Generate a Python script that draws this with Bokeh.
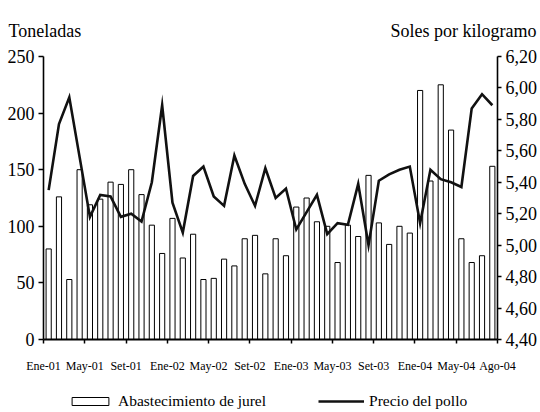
from bokeh.plotting import figure
from bokeh.models import (Range1d, LinearAxis, FixedTicker, CustomJSTickFormatter,
                          Label, Legend, LegendItem, ColumnDataSource)
from bokeh.embed import file_html
from bokeh.resources import INLINE

# ---- data (monthly, Ene-01 .. Ago-04) ----
meses = ["Ene", "Feb", "Mar", "Abr", "May", "Jun", "Jul", "Ago", "Set", "Oct", "Nov", "Dic"]
anios = ["01", "02", "03", "04"]
periodos = [f"{m}-{a}" for a in anios for m in meses][:44]

abastecimiento_jurel = [80, 126, 53, 150, 119, 124, 139, 137, 150, 128,
                        101, 76, 107, 72, 93, 53, 54, 71, 65, 89,
                        92, 58, 89, 74, 117, 125, 104, 100, 68, 101,
                        91, 145, 103, 84, 100, 94, 220, 140, 225, 185,
                        89, 68, 74, 153]

precio_pollo = [5.35, 5.77, 5.94, 5.56, 5.18, 5.32, 5.31, 5.18, 5.20, 5.15,
                5.40, 5.89, 5.27, 5.08, 5.44, 5.50, 5.31, 5.25, 5.57, 5.39,
                5.25, 5.49, 5.30, 5.36, 5.10, 5.21, 5.32, 5.07, 5.14, 5.13,
                5.39, 5.00, 5.41, 5.45, 5.48, 5.50, 5.14, 5.48, 5.42, 5.40,
                5.37, 5.87, 5.96, 5.89]

etiquetas_x = ["Ene-01", "May-01", "Set-01", "Ene-02", "May-02", "Set-02",
               "Ene-03", "May-03", "Set-03", "Ene-04", "May-04", "Ago-04"]
ticks_izq = [0, 50, 100, 150, 200, 250]
ticks_der = [4.40, 4.60, 4.80, 5.00, 5.20, 5.40, 5.60, 5.80, 6.00, 6.20]
titulo_izq = "Toneladas"
titulo_der = "Soles por kilogramo"

n = len(periodos)
src = ColumnDataSource(dict(
    x=[i + 0.5 for i in range(n)],
    periodo=periodos,
    jurel=abastecimiento_jurel,
    pollo=precio_pollo,
))

FONT = "Liberation Serif"

# ---- layout in canvas pixels (the frame fills the canvas; axes sit at fixed spots) ----
W, H = 540, 412
AX_L, AX_R, AX_T, AX_B = 43, 497, 56, 339      # where the drawn axes sit
Y0, Y1 = 0, 250
P0, P1 = 4.4, 6.2
X0, X1 = 0, n

sx = (AX_R - AX_L) / (X1 - X0)
sy = (AX_B - AX_T) / (Y1 - Y0)
sp = (AX_B - AX_T) / (P1 - P0)
x_range = Range1d(X0 - AX_L / sx, X1 + (W - AX_R) / sx)
y_range = Range1d(Y0 - (H - AX_B) / sy, Y1 + AX_T / sy)
p_range = Range1d(P0 - (H - AX_B) / sp, P1 + AX_T / sp)

p = figure(width=W, height=H, output_backend="svg", toolbar_location=None,
           x_range=x_range, y_range=y_range, min_border=0)
p.extra_y_ranges = {"precio": p_range}
p.outline_line_color = None
p.xgrid.visible = False
p.ygrid.visible = False

bars = p.vbar(x="x", top="jurel", width=0.5, source=src,
              fill_color="white", line_color="black", line_width=1)
line = p.line(x="x", y="pollo", source=src, y_range_name="precio",
              line_color="#111111", line_width=2.6, line_join="miter")

ya = p.yaxis[0]
ya.fixed_location = X0
ya.bounds = (Y0, Y1)
ya.ticker = FixedTicker(ticks=ticks_izq)
ya.axis_line_color = "black"
ya.axis_line_width = 1.6
ya.major_tick_line_width = 1.5
ya.major_tick_in = 0
ya.major_tick_out = 5
ya.minor_tick_line_color = None
ya.major_label_standoff = 4
ya.major_label_text_font = FONT
ya.major_label_text_font_size = "18px"
ya.major_label_text_color = "black"

yr = LinearAxis(y_range_name="precio", fixed_location=X1, bounds=(P0, P1))
yr.ticker = FixedTicker(ticks=ticks_der)
yr.formatter = CustomJSTickFormatter(code="return tick.toFixed(2).replace('.', ',');")
yr.axis_line_color = "black"
yr.axis_line_width = 1.6
yr.major_tick_line_width = 1.5
yr.major_tick_in = 0
yr.major_tick_out = 4
yr.minor_tick_line_color = None
yr.major_label_standoff = 4
yr.major_label_text_font = FONT
yr.major_label_text_font_size = "18px"
yr.major_label_text_color = "black"
p.add_layout(yr, "right")

xa = p.xaxis[0]
xa.fixed_location = Y0
xa.bounds = (X0, X1)
xa.ticker = FixedTicker(ticks=[4 * i for i in range(len(etiquetas_x))])
xa.formatter = CustomJSTickFormatter(args=dict(labels=etiquetas_x),
                                     code="return labels[Math.round(tick / 4)];")
xa.axis_line_color = "black"
xa.axis_line_width = 1.8
xa.major_tick_line_width = 1.5
xa.major_tick_in = 0
xa.major_tick_out = 4
xa.minor_tick_line_color = None
xa.major_label_standoff = 15
xa.major_label_text_font = FONT
xa.major_label_text_font_size = "12px"
xa.major_label_text_color = "black"

# axis titles at the top (screen units from the frame's bottom-left)
p.add_layout(Label(x=8, y=H - 30, x_units="screen", y_units="screen",
                   text=titulo_izq, text_font=FONT, text_font_size="18px",
                   text_color="black", text_baseline="alphabetic", text_align="left"))
p.add_layout(Label(x=536, y=H - 30, x_units="screen", y_units="screen",
                   text=titulo_der, text_font=FONT, text_font_size="18px",
                   text_color="black", text_baseline="alphabetic", text_align="right"))

legend = Legend(items=[LegendItem(label="Abastecimiento de jurel", renderers=[bars]),
                       LegendItem(label="Precio del pollo", renderers=[line])],
                orientation="horizontal", location=(67, 2),
                glyph_width=46, glyph_height=10, label_standoff=5, spacing=52,
                label_height=16, padding=0, margin=0,
                label_text_font=FONT, label_text_font_size="15.5px",
                label_text_color="black",
                border_line_alpha=0, background_fill_alpha=0)
p.add_layout(legend)

open("out.html", "w").write(file_html(p, INLINE))
